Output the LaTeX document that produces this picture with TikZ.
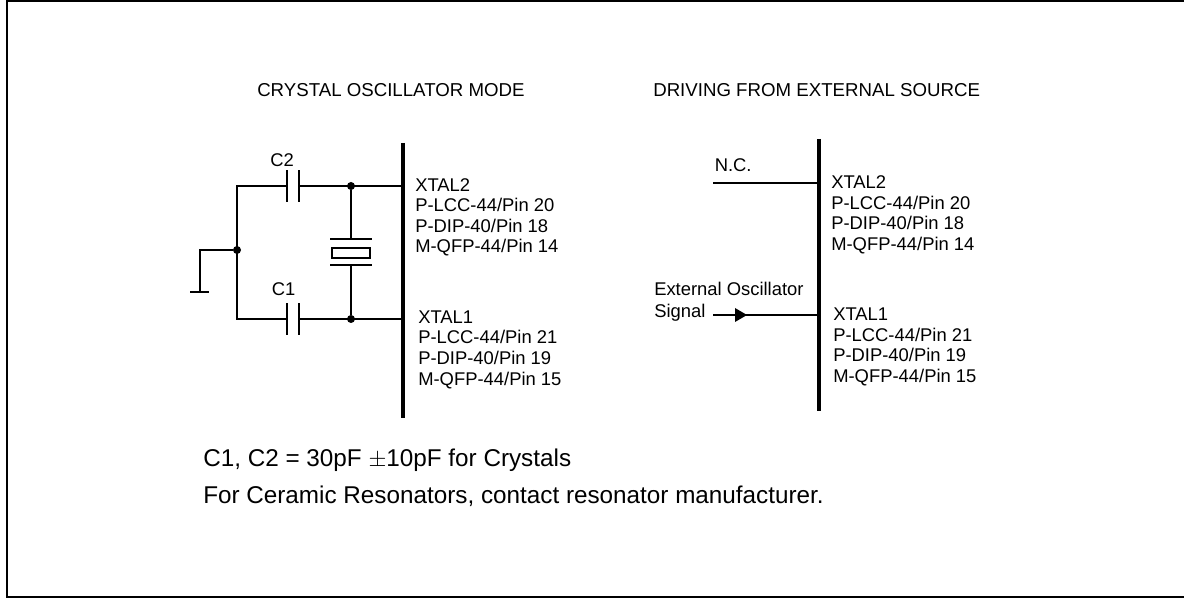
\documentclass[tikz,border=0pt]{standalone}
\usepackage{fontspec}
\setmainfont{Liberation Sans}
\tikzset{
  lbl/.style={inner sep=0pt,anchor=base west,font=\fontsize{13.8pt}{15pt}\selectfont},
  head/.style={inner sep=0pt,anchor=base west,font=\fontsize{14pt}{16pt}\selectfont},
  note/.style={inner sep=0pt,anchor=base west,font=\fontsize{18.2pt}{20pt}\selectfont},
  dot/.style={circle,fill=black,inner sep=0pt,minimum size=6pt,draw=none},
  wire/.style={draw,line width=1.5},
  plate/.style={draw,line width=2.2},
  bus/.style={draw,line width=2.6},
}
\begin{document}
\begin{tikzpicture}[x=0.75pt,y=-0.75pt]
\useasboundingbox (0,0) rectangle (1184,598);
\coordinate (fa) at (1184,1);
\coordinate (fb) at (7,1);
\coordinate (fc) at (7,597);
\coordinate (fd) at (1184,597);
\path[draw,line width=1.5] (fa) -- (fb) -- (fc) -- (fd);
\node[head] (title1) at (257,96.5) {CRYSTAL OSCILLATOR MODE};
\node[head] (title2) at (653,96.5) {DRIVING FROM EXTERNAL SOURCE};
% left circuit
\coordinate (bus1a) at (403,143);
\coordinate (bus1b) at (403,418);
\coordinate (x2) at (403,186);
\coordinate (x1) at (403,319);
\node[dot] (j2) at (351,186) {};
\node[dot] (j1) at (351,319) {};
\node[dot] (jg) at (237,250) {};
\coordinate (tl) at (237,186);
\coordinate (bl) at (237,319);
\coordinate (gt) at (200,250);
\coordinate (gb) at (200,292);
\coordinate (gl) at (190,292);
\coordinate (gr) at (209,292);
\coordinate (c2a) at (287,186);
\coordinate (c2b) at (299,186);
\coordinate (c1a) at (287,319);
\coordinate (c1b) at (299,319);
\path[bus] (bus1a) -- (bus1b);
\path[wire] (c2a) -- (tl) -- (bl) -- (c1a);
\path[wire] (c2b) -- (x2);
\path[wire] (c1b) -- (x1);
\path[wire] (jg) -- (gt) -- (gb);
\path[plate] (gl) -- (gr);
\foreach \p in {c2a,c2b,c1a,c1b} {
  \path[plate] ([yshift=-12pt]\p) -- ([yshift=12pt]\p);
}
\node[lbl] (c2) at (270,167) {C2};
\node[lbl] (c1) at (271.5,296) {C1};
% crystal
\node[draw,line width=1.5,minimum width=28.5,minimum height=7.5,inner sep=0pt] (xt) at (351,252.7) {};
\coordinate (xu) at (351,239);
\coordinate (xd) at (351,265);
\coordinate (xul) at (330,239);
\coordinate (xur) at (372,239);
\coordinate (xdl) at (330,265);
\coordinate (xdr) at (372,265);
\path[plate] (xul) -- (xur);
\path[plate] (xdl) -- (xdr);
\path[wire] (j2) -- (xu);
\path[wire] (xd) -- (j1);
\foreach \t [count=\i] in {XTAL2,P-LCC-44/Pin 20,P-DIP-40/Pin 18,M-QFP-44/Pin 14}
  \node[lbl] (a\i) at (415,171+\i*20.5) {\t};
\foreach \t [count=\i] in {XTAL1,P-LCC-44/Pin 21,P-DIP-40/Pin 19,M-QFP-44/Pin 15}
  \node[lbl] (b\i) at (418,303+\i*20.5) {\t};
% right circuit
\coordinate (bus2a) at (819,139);
\coordinate (bus2b) at (819,411);
\coordinate (nc) at (713,183);
\coordinate (y2) at (819,183);
\coordinate (sg) at (713,315);
\coordinate (y1) at (819,315);
\coordinate (ah) at (747,315);
\coordinate (au) at (735,308);
\coordinate (ad) at (735,322);
\path[bus] (bus2a) -- (bus2b);
\path[wire] (nc) -- (y2);
\path[wire] (sg) -- (y1);
\path[fill] (au) -- (ah) -- (ad) -- cycle;
\node[lbl] (ncl) at (714.5,172) {N.C.};
\node[lbl] (ext) at (654,296) {External Oscillator};
\node[lbl] (sig) at (654,318) {Signal};
\foreach \t [count=\i] in {XTAL2,P-LCC-44/Pin 20,P-DIP-40/Pin 18,M-QFP-44/Pin 14}
  \node[lbl] (c\i) at (831,168.5+\i*20.5) {\t};
\foreach \t [count=\i] in {XTAL1,P-LCC-44/Pin 21,P-DIP-40/Pin 19,M-QFP-44/Pin 15}
  \node[lbl] (d\i) at (833,300+\i*20.5) {\t};
% notes
\node[note] (n1) at (203,466) {C1, C2 = 30pF $\pm$10pF for Crystals};
\node[note] (n2) at (203,503) {For Ceramic Resonators, contact resonator manufacturer.};
\end{tikzpicture}
\end{document}
